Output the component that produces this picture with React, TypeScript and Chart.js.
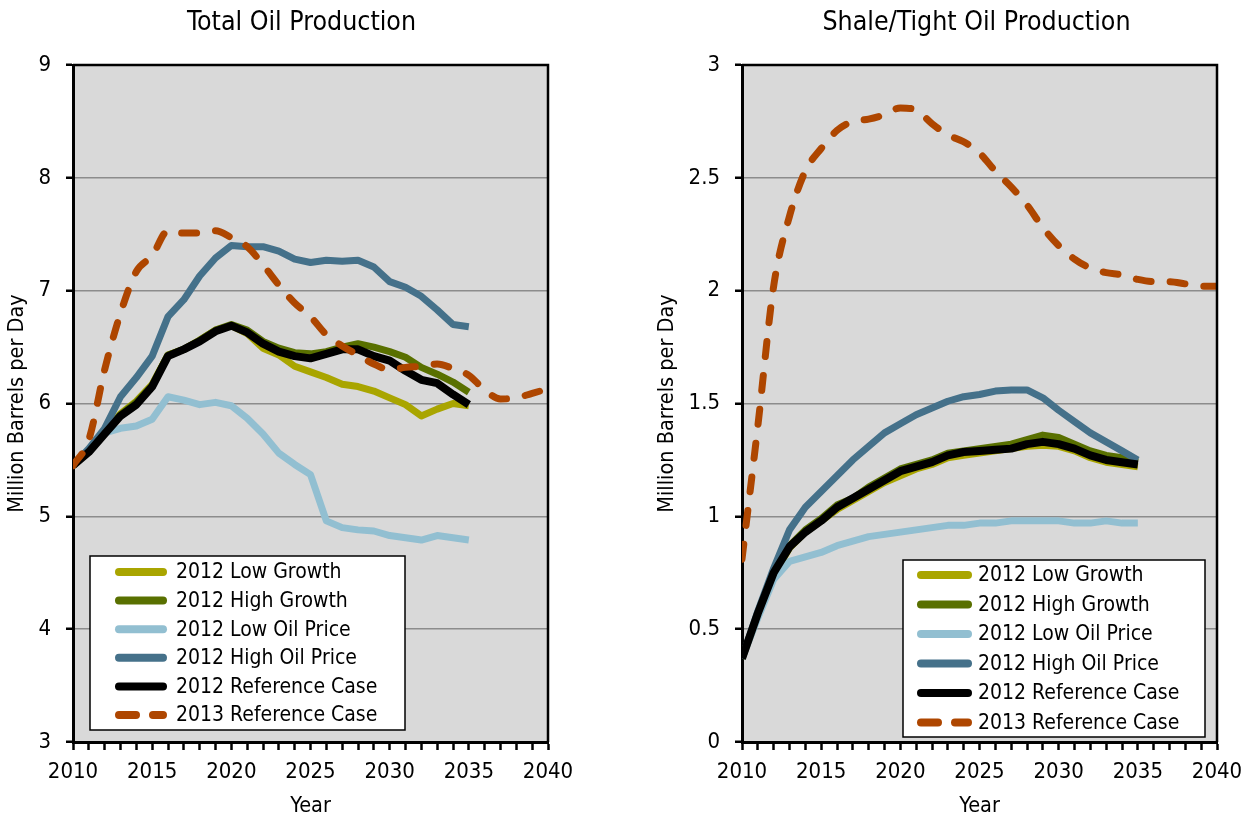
import React, { useEffect, useRef } from 'react';
import { Chart, registerables } from 'chart.js';

Chart.register(...registerables);

const BODY_FONT = "'DejaVu Sans Condensed', 'DejaVu Sans', sans-serif";
const TITLE_FONT = "'DejaVu Sans Condensed', 'DejaVu Sans', sans-serif";

// ---------- categories ----------
const years2012 = [2010, 2011, 2012, 2013, 2014, 2015, 2016, 2017, 2018, 2019, 2020, 2021, 2022, 2023, 2024, 2025, 2026, 2027, 2028, 2029, 2030, 2031, 2032, 2033, 2034, 2035];
const years2013 = [2010, 2011, 2012, 2013, 2014, 2015, 2016, 2017, 2018, 2019, 2020, 2021, 2022, 2023, 2024, 2025, 2026, 2027, 2028, 2029, 2030, 2031, 2032, 2033, 2034, 2035, 2036, 2037, 2038, 2039, 2040];

const xTickLabels = ['2010', '2015', '2020', '2025', '2030', '2035', '2040'];
const totalYTicks = [3, 4, 5, 6, 7, 8, 9];
const shaleYTicks = [0, 0.5, 1, 1.5, 2, 2.5, 3];

// ---------- Total Oil Production (million barrels per day) ----------
const totalLowGrowth = [5.45, 5.58, 5.74, 5.91, 6.02, 6.17, 6.43, 6.48, 6.56, 6.65, 6.69, 6.62, 6.49, 6.43, 6.33, 6.28, 6.23, 6.17, 6.15, 6.11, 6.05, 5.99, 5.89, 5.95, 6.0, 5.98];
const totalHighGrowth = [5.45, 5.58, 5.74, 5.9, 6.01, 6.16, 6.43, 6.48, 6.56, 6.65, 6.7, 6.65, 6.55, 6.49, 6.45, 6.44, 6.46, 6.5, 6.53, 6.5, 6.46, 6.41, 6.32, 6.26, 6.19, 6.1];
const totalLowOil = [5.45, 5.6, 5.74, 5.78, 5.8, 5.86, 6.06, 6.03, 5.99, 6.01, 5.98, 5.87, 5.73, 5.56, 5.46, 5.37, 4.96, 4.9, 4.88, 4.87, 4.83, 4.81, 4.79, 4.83, 4.81, 4.79];
const totalHighOil = [5.45, 5.6, 5.78, 6.06, 6.23, 6.42, 6.77, 6.92, 7.13, 7.29, 7.4, 7.39, 7.39, 7.35, 7.28, 7.25, 7.27, 7.26, 7.27, 7.21, 7.08, 7.03, 6.95, 6.83, 6.7, 6.68];
const totalRef2012 = [5.45, 5.57, 5.73, 5.89, 5.99, 6.15, 6.42, 6.48, 6.55, 6.64, 6.69, 6.63, 6.53, 6.46, 6.42, 6.4, 6.44, 6.48, 6.48, 6.42, 6.38, 6.29, 6.21, 6.18, 6.08, 5.99];
const totalRef2013 = [5.45, 5.68, 6.3, 6.8, 7.17, 7.31, 7.53, 7.51, 7.51, 7.53, 7.47, 7.39, 7.23, 7.05, 6.89, 6.77, 6.61, 6.51, 6.43, 6.35, 6.3, 6.32, 6.33, 6.35, 6.31, 6.25, 6.12, 6.04, 6.05, 6.09, 6.13];

// ---------- Shale/Tight Oil Production (million barrels per day) ----------
const shaleLowGrowth = [0.37, 0.56, 0.74, 0.86, 0.93, 0.98, 1.03, 1.07, 1.11, 1.15, 1.18, 1.21, 1.23, 1.26, 1.27, 1.28, 1.29, 1.3, 1.31, 1.315, 1.31, 1.29, 1.26, 1.24, 1.23, 1.22];
const shaleHighGrowth = [0.37, 0.57, 0.75, 0.87, 0.94, 0.99, 1.05, 1.08, 1.13, 1.17, 1.21, 1.23, 1.25, 1.28, 1.29, 1.3, 1.31, 1.32, 1.34, 1.36, 1.35, 1.32, 1.29, 1.27, 1.26, 1.24];
const shaleLowOil = [0.37, 0.55, 0.72, 0.8, 0.82, 0.84, 0.87, 0.89, 0.91, 0.92, 0.93, 0.94, 0.95, 0.96, 0.96, 0.97, 0.97, 0.98, 0.98, 0.98, 0.98, 0.97, 0.97, 0.98, 0.97, 0.97];
const shaleHighOil = [0.37, 0.58, 0.77, 0.94, 1.04, 1.11, 1.18, 1.25, 1.31, 1.37, 1.41, 1.45, 1.48, 1.51, 1.53, 1.54, 1.555, 1.56, 1.56, 1.525, 1.47, 1.42, 1.37, 1.33, 1.29, 1.25];
const shaleRef2012 = [0.37, 0.57, 0.75, 0.865, 0.93, 0.98, 1.04, 1.08, 1.12, 1.16, 1.2, 1.22, 1.24, 1.27, 1.285, 1.29, 1.295, 1.3, 1.32, 1.33, 1.32, 1.3, 1.27, 1.25, 1.24, 1.23];
const shaleRef2013 = [0.81, 1.4, 2.02, 2.33, 2.53, 2.63, 2.71, 2.75, 2.76, 2.78, 2.81, 2.8, 2.74, 2.69, 2.66, 2.61, 2.53, 2.46, 2.38, 2.28, 2.2, 2.14, 2.1, 2.08, 2.07, 2.05, 2.04, 2.04, 2.03, 2.02, 2.02];

// ---------- series ----------
const seriesLabels = ['2012 Low Growth', '2012 High Growth', '2012 Low Oil Price', '2012 High Oil Price', '2012 Reference Case', '2013 Reference Case'];
const seriesColors = ['#A9A500', '#597000', '#92BFD1', '#45718A', '#000000', '#AE4600'];
const seriesWidths = [7, 7, 7, 7, 8, 7];
const seriesDrawOrder = [6, 5, 4, 3, 2, 1];
const seriesDashed = [false, false, false, false, false, true];
const seriesYears = [years2012, years2012, years2012, years2012, years2012, years2013];

type LegendGeo = { x: number; y: number; w: number; h: number; sx0: number; sx1: number; tx: number; rowY: number; rowStep: number };
type PanelCfg = {
  title: string;
  titleDx: number;
  values: number[][];
  yTicks: number[];
  canvasLeft: number;
  area: { left: number; right: number; top: number; bottom: number };
  yTitleX: number;
  legend: LegendGeo;
};

const W = 627;
const H = 819;

const totalPanel: PanelCfg = {
  title: 'Total Oil Production',
  titleDx: -9,
  values: [totalLowGrowth, totalHighGrowth, totalLowOil, totalHighOil, totalRef2012, totalRef2013],
  yTicks: totalYTicks,
  canvasLeft: 0,
  area: { left: 73, right: 548, top: 65, bottom: 742 },
  yTitleX: 18,
  legend: { x: 90, y: 556, w: 315, h: 174, sx0: 115, sx1: 167, tx: 176, rowY: 572, rowStep: 28.6 },
};

const shalePanel: PanelCfg = {
  title: 'Shale/Tight Oil Production',
  titleDx: -3,
  values: [shaleLowGrowth, shaleHighGrowth, shaleLowOil, shaleHighOil, shaleRef2012, shaleRef2013],
  yTicks: shaleYTicks,
  canvasLeft: 627,
  area: { left: 742 - 627, right: 1217 - 627, top: 65, bottom: 742 },
  yTitleX: 668 - 627,
  legend: { x: 903 - 627, y: 560, w: 302, h: 177, sx0: 917 - 627, sx1: 972 - 627, tx: 978 - 627, rowY: 575, rowStep: 29.5 },
};

function makeDecor(cfg: PanelCfg) {
  return {
    id: 'panelDecor',
    beforeDraw(chart: any) {
      const { ctx, chartArea: a } = chart;
      ctx.save();
      ctx.fillStyle = '#D9D9D9';
      ctx.fillRect(a.left, a.top, a.right - a.left, a.bottom - a.top);
      ctx.restore();
    },
    afterDraw(chart: any) {
      const { ctx, chartArea: a } = chart;
      ctx.save();
      // frame (top + right)
      ctx.strokeStyle = '#000';
      ctx.lineWidth = 2.5;
      ctx.beginPath();
      ctx.moveTo(a.left, a.top);
      ctx.lineTo(a.right, a.top);
      ctx.lineTo(a.right, a.bottom);
      ctx.stroke();
      // title
      ctx.fillStyle = '#000';
      ctx.font = `26.5px ${TITLE_FONT}`;
      ctx.textAlign = 'center';
      ctx.textBaseline = 'middle';
      ctx.fillText(cfg.title, (a.left + a.right) / 2 + cfg.titleDx, 23);
      // legend
      const L = cfg.legend;
      ctx.fillStyle = '#FFFFFF';
      ctx.fillRect(L.x, L.y, L.w, L.h);
      ctx.strokeStyle = '#000';
      ctx.lineWidth = 1.5;
      ctx.strokeRect(L.x, L.y, L.w, L.h);
      chart.data.datasets.forEach((ds: any, i: number) => {
        const y = L.rowY + i * L.rowStep;
        ctx.beginPath();
        ctx.strokeStyle = ds.borderColor;
        ctx.lineWidth = 8;
        ctx.lineCap = 'round';
        ctx.setLineDash(seriesDashed[i] ? [17, 17] : []);
        ctx.moveTo(L.sx0 + 4, y);
        ctx.lineTo(L.sx1 - 4, y);
        ctx.stroke();
        ctx.setLineDash([]);
        ctx.fillStyle = '#000';
        ctx.font = `21px ${BODY_FONT}`;
        ctx.textAlign = 'left';
        ctx.textBaseline = 'middle';
        ctx.fillText(ds.label, L.tx, y + 1);
      });
      ctx.restore();
    },
  };
}

function Panel({ cfg }: { cfg: PanelCfg }) {
  const ref = useRef<HTMLCanvasElement | null>(null);
  useEffect(() => {
    if (!ref.current) return;
    const datasets = seriesLabels.map((label, i) => ({
      label,
      data: seriesYears[i].map((yr, j) => ({ x: yr, y: cfg.values[i][j] })),
      borderColor: seriesColors[i],
      backgroundColor: seriesColors[i],
      borderWidth: seriesWidths[i],
      borderDash: seriesDashed[i] ? [15, 19] : [],
      borderCapStyle: seriesDashed[i] ? 'round' : 'butt',
      borderJoinStyle: 'round',
      pointRadius: 0,
      fill: false,
      tension: 0,
      cubicInterpolationMode: seriesDashed[i] ? 'monotone' : 'default',
      order: seriesDrawOrder[i],
    }));
    const yt = cfg.yTicks;
    const chart = new Chart(ref.current, {
      type: 'line',
      data: { datasets } as any,
      options: {
        animation: false,
        responsive: false,
        devicePixelRatio: 1,
        events: [],
        layout: { padding: { top: cfg.area.top, right: W - cfg.area.right, bottom: 0, left: 0 } },
        plugins: { legend: { display: false }, tooltip: { enabled: false }, title: { display: false } },
        scales: {
          x: {
            type: 'linear',
            min: 2010,
            max: 2040,
            afterFit: (s: any) => { s.height = H - cfg.area.bottom; },
            ticks: {
              stepSize: 1,
              autoSkip: false,
              maxRotation: 0,
              padding: 9,
              color: '#000',
              font: { family: BODY_FONT, size: 22 },
              callback: (v: any) => (xTickLabels.includes(String(v)) ? String(v) : ''),
            },
            grid: { drawOnChartArea: false, drawTicks: true, tickLength: 8, tickColor: '#000', tickWidth: 2.5, color: '#000' },
            border: { display: true, color: '#000', width: 3 },
            title: { display: true, text: 'Year', color: '#000', font: { family: BODY_FONT, size: 21.5 }, padding: { top: 0, bottom: 0 } },
          },
          y: {
            type: 'linear',
            min: yt[0],
            max: yt[yt.length - 1],
            afterFit: (s: any) => { s.width = cfg.area.left; },
            ticks: {
              stepSize: yt[1] - yt[0],
              padding: 15,
              color: '#000',
              font: { family: BODY_FONT, size: 22 },
              callback: (v: any) => String(Math.round(Number(v) * 100) / 100),
            },
            grid: { color: '#8C8C8C', lineWidth: 1.5, drawTicks: true, tickLength: 7, tickColor: '#000', tickWidth: 2.5 },
            border: { display: true, color: '#000', width: 3 },
            title: {
              display: true,
              text: 'Million Barrels per Day',
              color: '#000',
              font: { family: BODY_FONT, size: 21.5 },
              padding: { top: cfg.yTitleX - 13, bottom: 0 },
            },
          },
        },
      } as any,
      plugins: [makeDecor(cfg)],
    });
    return () => chart.destroy();
  }, [cfg]);
  return (
    <canvas
      ref={ref}
      width={W}
      height={H}
      style={{ position: 'absolute', left: cfg.canvasLeft, top: 0, width: W, height: H, display: 'block' }}
    />
  );
}

export default function App() {
  return (
    <div style={{ position: 'absolute', left: 0, top: 0, width: 1254, height: 819, background: '#FFFFFF', overflow: 'hidden' }}>
      <Panel cfg={totalPanel} />
      <Panel cfg={shalePanel} />
    </div>
  );
}
